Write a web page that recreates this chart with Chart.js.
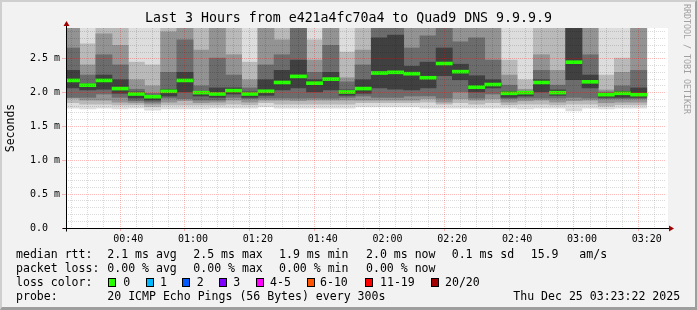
<!DOCTYPE html>
<html><head><meta charset="utf-8">
<script src="https://cdn.jsdelivr.net/npm/chart.js@4/dist/chart.umd.min.js"></script>
<style>
html,body{margin:0;padding:0;background:#f2f2f2;}
#wrap{position:relative;width:697px;height:310px;overflow:hidden;font-family:"DejaVu Sans Mono",monospace;}
#c{position:absolute;left:0;top:0;}
.frame{position:absolute;left:0;top:0;width:697px;height:310px;box-sizing:border-box;border-left:2px solid #cfcfcf;border-top:2px solid #cfcfcf;border-right:2px solid #9e9e9e;border-bottom:3px solid #9e9e9e;pointer-events:none;}
.t{position:absolute;font-size:11.55px;line-height:14px;white-space:pre;color:#000;}
.sw{position:absolute;width:8px;height:9px;box-sizing:border-box;border:1px solid #000;}
.wm{position:absolute;left:682px;top:4px;font-size:8.3px;line-height:10px;writing-mode:vertical-rl;color:#a0a0a0;white-space:pre;}
</style></head><body>
<div id="wrap"><canvas id="c" width="697" height="310"></canvas><div id="legend"></div><div class="wm">RRDTOOL / TOBI OETIKER</div><div class="frame"></div></div>
<script>
// ---- data (milliseconds) ----
const titleText = 'Last 3 Hours from e421a4fc70a4 to Quad9 DNS 9.9.9.9';
const windowStart = '00:23:22';
const windowEnd = '03:23:22';
const slotStart = ['00:20','00:25','00:30','00:35','00:40','00:45','00:50','00:55','01:00','01:05','01:10','01:15',
  '01:20','01:25','01:30','01:35','01:40','01:45','01:50','01:55','02:00','02:05','02:10','02:15',
  '02:20','02:25','02:30','02:35','02:40','02:45','02:50','02:55','03:00','03:05','03:10','03:15'];
const median = [2.18,2.11,2.18,2.06,1.98,1.94,2.02,2.18,2.00,1.98,2.03,1.98,2.02,2.15,2.24,2.14,2.20,2.01,
  2.06,2.29,2.30,2.28,2.22,2.43,2.31,2.08,2.12,1.99,2.00,2.15,2.00,2.45,2.16,1.97,1.99,1.97];
// smoke band edges (outer band 1 .. inner band 5), values above the top of the graph shown as 3.0
const hi1 = [3.0,3.0,3.0,3.0,3.0,3.0,3.0,3.0,3.0,3.0,3.0,3.0,3.0,3.0,3.0,3.0,3.0,3.0,
  3.0,3.0,3.0,3.0,3.0,3.0,3.0,3.0,3.0,3.0,3.0,3.0,3.0,3.0,3.0,3.0,3.0,3.0];
const hi2 = [3.0,2.72,3.0,3.0,2.45,2.41,3.0,3.0,3.0,3.0,3.0,2.45,3.0,3.0,3.0,2.78,3.0,2.60,
  3.0,3.0,3.0,3.0,3.0,3.0,3.0,3.0,3.0,2.48,2.19,3.0,3.0,3.0,3.0,2.26,2.51,3.0];
const hi3 = [3.0,2.41,2.87,2.70,2.19,2.10,2.90,3.0,2.63,3.0,2.56,2.19,3.0,2.78,3.0,2.48,3.0,2.22,
  2.63,3.0,3.0,3.0,3.0,3.0,3.0,3.0,3.0,2.26,2.05,2.56,2.33,3.0,3.0,2.04,2.30,3.0];
const hi4 = [2.66,2.26,2.56,2.41,2.05,1.99,2.30,2.78,2.10,2.51,2.26,2.07,2.41,2.56,3.0,2.30,2.70,2.16,
  2.41,3.0,3.0,2.66,2.84,3.0,2.75,2.81,2.48,2.11,2.02,2.33,2.11,3.0,2.56,2.01,2.10,2.33];
const hi5 = [2.33,2.13,2.26,2.19,2.01,1.96,2.05,2.30,2.02,2.07,2.07,2.01,2.19,2.33,2.48,2.19,2.30,2.04,
  2.19,2.81,2.85,2.39,2.45,2.66,2.42,2.25,2.19,2.02,2.01,2.19,2.04,3.0,2.26,1.98,2.02,2.07];
const lo5 = [2.07,2.04,2.05,1.99,1.92,1.89,1.95,2.01,1.95,1.93,1.98,1.93,1.96,2.04,2.07,2.01,2.04,1.96,
  1.99,2.07,2.05,2.04,2.07,2.25,2.19,2.01,2.07,1.93,1.95,2.01,1.96,2.19,2.07,1.93,1.93,1.93];
const lo4 = [1.93,1.93,1.98,1.93,1.88,1.86,1.92,1.91,1.89,1.89,1.93,1.91,1.92,1.92,1.92,1.92,1.92,1.93,
  1.95,1.93,1.93,1.95,1.95,1.92,2.01,1.92,1.98,1.91,1.92,1.92,1.92,1.93,1.92,1.91,1.91,1.91];
const lo3 = [1.92,1.89,1.89,1.86,1.85,1.83,1.86,1.88,1.85,1.86,1.89,1.86,1.89,1.89,1.88,1.89,1.89,1.89,
  1.89,1.89,1.89,1.89,1.91,1.86,1.91,1.89,1.91,1.86,1.88,1.89,1.86,1.88,1.89,1.85,1.86,1.86];
const lo2 = [1.85,1.83,1.83,1.82,1.82,1.79,1.82,1.82,1.82,1.82,1.83,1.82,1.85,1.83,1.83,1.83,1.83,1.83,
  1.85,1.85,1.85,1.85,1.86,1.83,1.85,1.83,1.85,1.82,1.83,1.83,1.82,1.83,1.83,1.80,1.82,1.82];
const lo1 = [1.77,1.76,1.77,1.76,1.77,1.74,1.76,1.76,1.76,1.77,1.77,1.77,1.79,1.77,1.77,1.77,1.77,1.77,
  1.79,1.79,1.79,1.79,1.77,1.77,1.77,1.77,1.77,1.77,1.76,1.77,1.77,1.73,1.77,1.76,1.77,1.77];
const xTickLabels = ['00:40','01:00','01:20','01:40','02:00','02:20','02:40','03:00','03:20'];
const yTickLabels = ['0.0  ','0.5 m','1.0 m','1.5 m','2.0 m','2.5 m'];
const yMax = 2.955;
const rttStats = ['2.1 ms avg','2.5 ms max','1.9 ms min','2.0 ms now','0.1 ms sd','15.9','am/s'];
const lossStats = ['0.00 % avg','0.00 % max','0.00 % min','0.00 % now'];
const lossColorLabels = ['0','1','2','3','4-5','6-10','11-19','20/20'];
const lossColors = ['#26ff00','#00b8ff','#0059ff','#7e00ff','#ff00ff','#ff5500','#ff0000','#a10000'];
const probeText = '20 ICMP Echo Pings (56 Bytes) every 300s';
const dateText = 'Thu Dec 25 03:23:22 2025';

// ---- layout / style constants ----
const FONT = "'DejaVu Sans Mono', monospace";
const SLOT = 5;
const MED_H = 0.022;
const bandColors = ['#dddddd','#b9b9b9','#939393','#6c6c6c','#404040'];
const MAJOR = 'rgba(255,0,0,0.27)', MINOR = 'rgba(0,0,0,0.14)';
const statX = [107.3,193.3,279,366,451.7,530.7,579.3];
const swatchX = [108.3,145.7,182.3,219,255.7,306.7,365,430.7];
const swLabelX = [123.3,160,196.7,233.3,270,320,380,445];
const rowTop = [247.3,261.3,275.3,289];

const toMin = s => { const p = s.split(':').map(Number); return p[0]*60 + p[1] + (p[2]||0)/60; };
const xs = slotStart.map(s => toMin(s) + SLOT/2);
const xMajor = xTickLabels.map(toMin);
const yMajor = yTickLabels.map(s => parseFloat(s));
const isXMajor = c => !!c.tick && xMajor.some(m => Math.abs(m - c.tick.value) < 1e-6);
const isYMajor = c => !!c.tick && yMajor.some(m => Math.abs(m - c.tick.value) < 1e-6);

const lows = [lo1,lo2,lo3,lo4,lo5], highs = [hi1,hi2,hi3,hi4,hi5];
const datasets = lows.map((lo,k) => ({
  label: 'smoke' + (k+1),
  data: xs.map((x,i) => ({x, y:[lo[i], highs[k][i]]})),
  backgroundColor: bandColors[k], borderWidth: 0, clip: 0, order: 10 - k,
  barPercentage: 1, categoryPercentage: 1, grouped: false
}));
datasets.push({
  label: 'median rtt',
  data: xs.map((x,i) => ({x, y:[median[i] - MED_H, median[i] + MED_H]})),
  backgroundColor: '#26ff00', borderWidth: 0, clip: 0, order: 1,
  barPercentage: 1, categoryPercentage: 1, grouped: false
});

const decor = {
  id: 'decor',
  beforeDraw(chart) {
    const {ctx, chartArea: a} = chart;
    ctx.save(); ctx.fillStyle = '#ffffff';
    ctx.fillRect(a.left, a.top, a.right - a.left + 2, a.bottom - a.top);
    ctx.restore();
  },
  afterDraw(chart) {
    const {ctx, chartArea: a} = chart;
    const xl = Math.round(a.left) + 0.5, yb = Math.round(a.bottom) + 0.5;
    ctx.save();
    ctx.strokeStyle = '#000'; ctx.lineWidth = 1;
    ctx.beginPath();
    ctx.moveTo(xl - 4, yb); ctx.lineTo(a.right + 3, yb);
    ctx.moveTo(xl, yb + 3); ctx.lineTo(xl, a.top - 2);
    ctx.stroke();
    ctx.fillStyle = '#a10000';
    ctx.beginPath(); ctx.moveTo(a.right + 3, yb - 3); ctx.lineTo(a.right + 8, yb); ctx.lineTo(a.right + 3, yb + 3); ctx.closePath(); ctx.fill();
    ctx.beginPath(); ctx.moveTo(xl - 3, a.top - 2); ctx.lineTo(xl, a.top - 7); ctx.lineTo(xl + 3, a.top - 2); ctx.closePath(); ctx.fill();
    ctx.restore();
  }
};

Chart.defaults.font.family = FONT;
new Chart(document.getElementById('c'), {
  type: 'bar',
  data: { datasets },
  options: {
    responsive: false, animation: false,
    layout: { padding: 0 },
    plugins: {
      legend: { display: false }, tooltip: { enabled: false },
      title: { display: true, text: titleText, color: '#000',
        font: { family: FONT, size: 13.25, weight: 'normal' }, padding: { top: 11, bottom: 1.1 } }
    },
    scales: {
      x: {
        type: 'linear', min: toMin(windowStart), max: toMin(windowEnd),
        afterBuildTicks: s => { const t = []; for (let v = Math.ceil(s.min / SLOT) * SLOT; v <= s.max; v += SLOT) t.push({value: v}); s.ticks = t; },
        afterFit: s => { s.height = 82; },
        ticks: { autoSkip: false, maxRotation: 0, color: '#000', padding: 2, font: { family: FONT, size: 10 },
          callback: v => { const i = xMajor.findIndex(m => Math.abs(m - v) < 1e-6); return i >= 0 ? xTickLabels[i] : ''; } },
        grid: { z: 1, lineWidth: 1, tickLength: 3,
          color: c => isXMajor(c) ? MAJOR : MINOR,
          tickColor: c => isXMajor(c) ? MAJOR : 'rgba(0,0,0,0)' },
        border: { display: false, dash: [1,1] }
      },
      y: {
        min: 0, max: yMax,
        afterBuildTicks: s => { const t = []; for (let i = 0; i / 10 <= s.max; i++) t.push({value: i / 10}); s.ticks = t; },
        afterFit: s => { s.width = 66; },
        ticks: { autoSkip: false, color: '#000', padding: 2, font: { family: FONT, size: 10 },
          callback: v => { const i = yMajor.findIndex(m => Math.abs(m - v) < 1e-6); return i >= 0 ? yTickLabels[i] : ''; } },
        grid: { z: 1, lineWidth: 1, tickLength: 4,
          color: c => isYMajor(c) ? MAJOR : MINOR,
          tickColor: c => isYMajor(c) ? MAJOR : 'rgba(0,0,0,0)' },
        border: { display: false, dash: [1,1] },
        title: { display: true, text: 'Seconds', color: '#000', font: { family: FONT, size: 11.5 }, padding: { top: 4, bottom: 0 } }
      },
      yR: {
        position: 'right', display: true,
        grid: { display: false }, border: { display: false }, ticks: { display: false },
        afterFit: s => { s.width = 31; }
      }
    }
  },
  plugins: [decor]
});

// ---- legend (HTML text) ----
const lg = document.getElementById('legend');
function txt(s, x, y) { const d = document.createElement('div'); d.className = 't'; d.textContent = s; d.style.left = x + 'px'; d.style.top = y + 'px'; lg.appendChild(d); }
txt('median rtt:', 16, rowTop[0]);
rttStats.forEach((s,i) => txt(s, statX[i], rowTop[0]));
txt('packet loss:', 16, rowTop[1]);
lossStats.forEach((s,i) => txt(s, statX[i], rowTop[1]));
txt('loss color:', 16, rowTop[2]);
lossColorLabels.forEach((s,i) => {
  const b = document.createElement('div'); b.className = 'sw';
  b.style.left = swatchX[i] + 'px'; b.style.top = (rowTop[2] + 2.5) + 'px'; b.style.background = lossColors[i];
  lg.appendChild(b);
  txt(s, swLabelX[i], rowTop[2]);
});
txt('probe:', 16, rowTop[3]);
txt(probeText, statX[0], rowTop[3]);
txt(dateText, 513.3, rowTop[3]);
</script>
</body></html>
